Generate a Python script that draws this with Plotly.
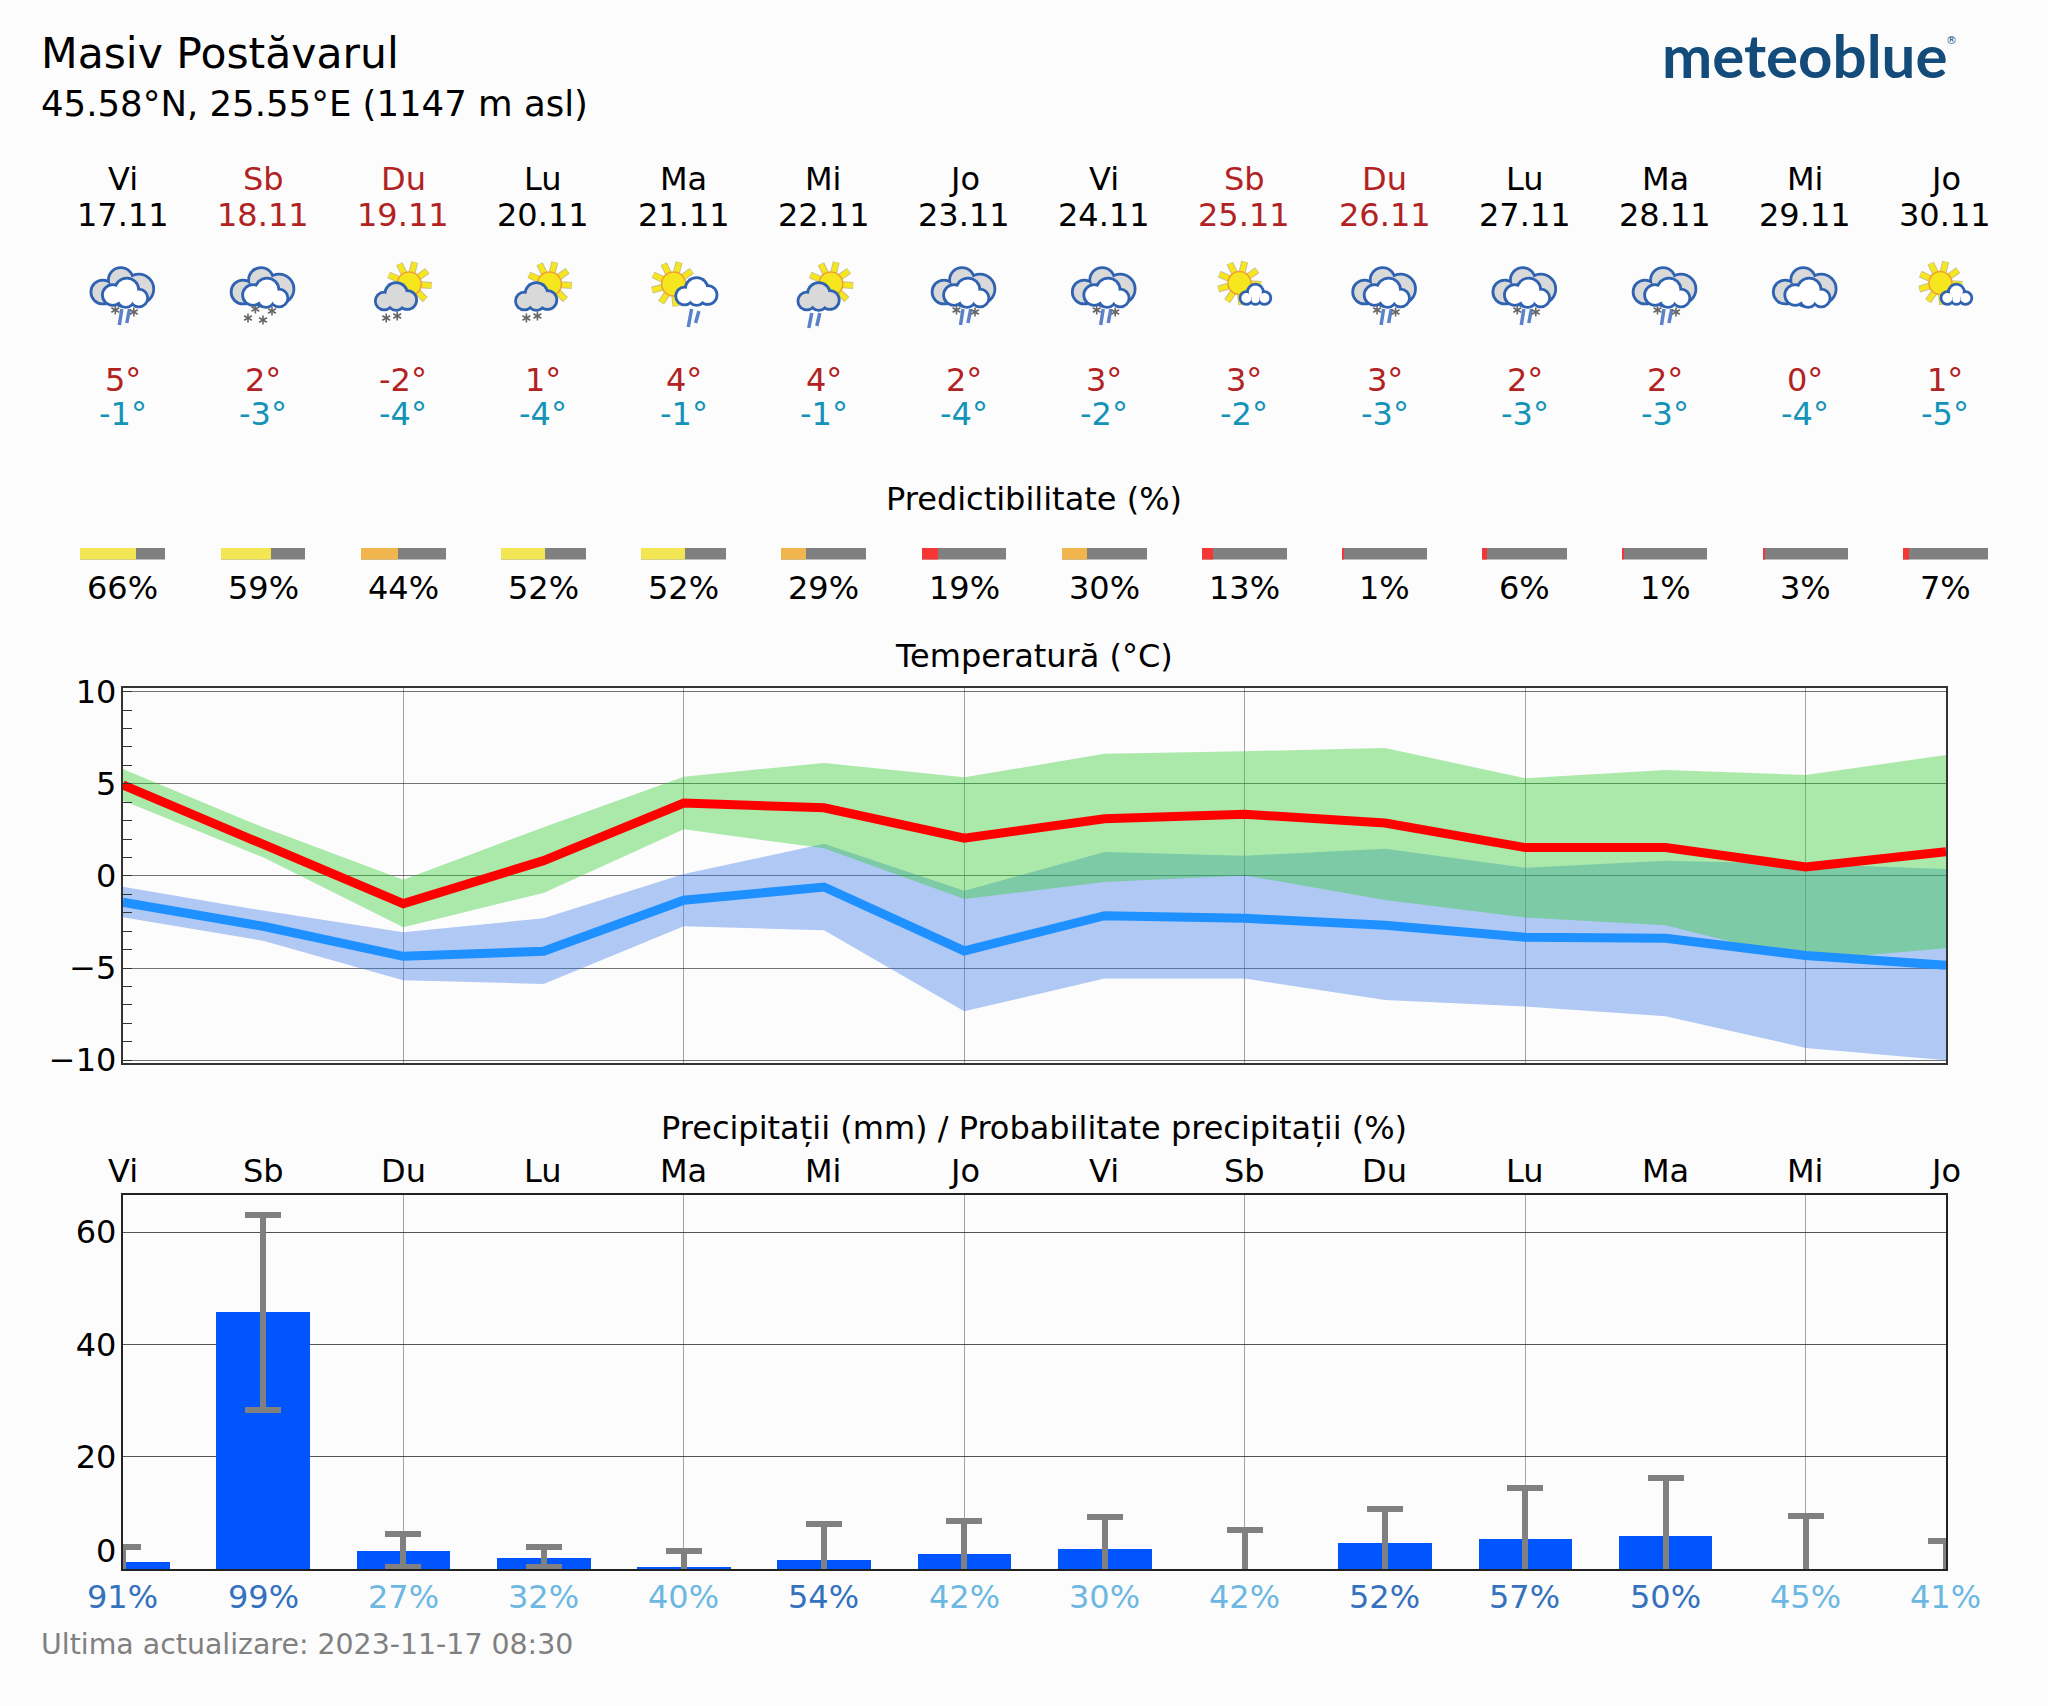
import math
import plotly.graph_objects as go

W, H = 2048, 1706
BG = "#FCFCFC"
FONT = "DejaVu Sans"

day_names = ["Vi", "Sb", "Du", "Lu", "Ma", "Mi", "Jo", "Vi", "Sb", "Du", "Lu", "Ma", "Mi", "Jo"]
dates = ["17.11", "18.11", "19.11", "20.11", "21.11", "22.11", "23.11", "24.11", "25.11", "26.11", "27.11", "28.11", "29.11", "30.11"]
tmax = [5, 2, -2, 1, 4, 4, 2, 3, 3, 3, 2, 2, 0, 1]
tmin = [-1, -3, -4, -4, -1, -1, -4, -2, -2, -3, -3, -3, -4, -5]
predict = [66, 59, 44, 52, 52, 29, 19, 30, 13, 1, 6, 1, 3, 7]
icons = ["mix", "snow", "sunsnow", "sunsnow", "sunrain", "sungreyrain", "mix", "mix", "sunsmall", "mix", "mix", "mix", "cloud", "sunsmall"]

red_line = [4.94, 1.74, -1.5, 0.83, 3.96, 3.7, 2.05, 3.1, 3.35, 2.87, 1.54, 1.54, 0.49, 1.32]
blue_line = [-1.43, -2.73, -4.36, -4.09, -1.32, -0.6, -4.07, -2.16, -2.3, -2.67, -3.33, -3.38, -4.32, -4.85]
green_hi = [5.8, 2.64, -0.2, 2.64, 5.39, 6.13, 5.35, 6.63, 6.77, 6.94, 5.3, 5.75, 5.48, 6.56]
green_lo = [4.09, 1.01, -2.78, -0.92, 2.53, 1.5, -1.25, -0.33, 0.03, -1.3, -2.26, -2.68, -4.58, -3.92]
blue_hi = [-0.58, -1.88, -3.05, -2.3, 0.1, 1.75, -0.8, 1.3, 1.1, 1.48, 0.45, 0.83, 0.65, 0.38]
blue_lo = [-2.24, -3.51, -5.66, -5.86, -2.73, -2.94, -7.34, -5.57, -5.57, -6.73, -7.09, -7.61, -9.33, -10.0]

precip = [1.2, 45.8, 3.2, 2.0, 0.3, 1.6, 2.6, 3.6, 0, 4.6, 5.4, 5.9, 0, 0]
precip_hi = [3.9, 63, 6.3, 3.9, 3.2, 8.1, 8.6, 9.3, 7, 10.7, 14.4, 16.2, 9.5, 4.9]
precip_lo = [-1, 28.4, 0.4, 0.4, -1, -1, -1, -1, -1, -1, -1, -1, -1, -1]
precip_prob = [91, 99, 27, 32, 40, 54, 42, 30, 42, 52, 57, 50, 45, 41]

X0, DX = 122.8, 140.2   # pixel position of the first day and spacing of the days
days = list(range(14))


def pcol(p):
    return "#F2E655" if p >= 50 else ("#F0B54D" if p >= 25 else "#F63636")


fig = go.Figure()

# temperature bands and lines
fig.add_trace(go.Scatter(x=days, y=blue_hi, mode="lines", line=dict(width=0), xaxis="x", yaxis="y"))
fig.add_trace(go.Scatter(x=days, y=blue_lo, mode="lines", line=dict(width=0), fill="tonexty",
                         fillcolor="rgba(62,122,232,0.4)", xaxis="x", yaxis="y"))
fig.add_trace(go.Scatter(x=days, y=green_hi, mode="lines", line=dict(width=0), xaxis="x", yaxis="y"))
fig.add_trace(go.Scatter(x=days, y=green_lo, mode="lines", line=dict(width=0), fill="tonexty",
                         fillcolor="rgba(50,205,50,0.4)", xaxis="x", yaxis="y"))
fig.add_trace(go.Scatter(x=days, y=red_line, mode="lines", line=dict(color="#FF0000", width=9), xaxis="x", yaxis="y"))
fig.add_trace(go.Scatter(x=days, y=blue_line, mode="lines", line=dict(color="#1E90FF", width=9), xaxis="x", yaxis="y"))

# precipitation
fig.add_trace(go.Bar(x=days, y=precip, width=0.667, marker=dict(color="#0055FF", line=dict(width=0)),
                     error_y=dict(type="data", symmetric=False,
                                  array=[h - v for h, v in zip(precip_hi, precip)],
                                  arrayminus=[v - l for l, v in zip(precip_lo, precip)],
                                  color="#808080", thickness=6, width=18),
                     xaxis="x2", yaxis="y2"))

# predictability bars
band = [0.5] * 14
BAR_W = 0.605
fig.add_trace(go.Bar(y=band, x=[BAR_W] * 14, base=[d - BAR_W / 2 for d in days], width=1, orientation="h",
                     marker=dict(color="#808080", line=dict(width=0)), xaxis="x3", yaxis="y3"))
fig.add_trace(go.Bar(y=band, x=[BAR_W * p / 100 for p in predict], base=[d - BAR_W / 2 for d in days], width=1, orientation="h",
                     marker=dict(color=[pcol(p) for p in predict], line=dict(width=0)), xaxis="x3", yaxis="y3"))


def fy(y):
    return 1 - y / H


def txt(x, y, s, size, color="#000000"):
    fig.add_annotation(x=x, y=fy(y), text=s, xref="x3", yref="paper", showarrow=False,
                       xanchor="center", yanchor="middle", font=dict(family=FONT, size=size, color=color))


def ptxt(x, y, s, size, color="#000000", anchor="center", family=FONT):
    fig.add_annotation(x=x / W, y=fy(y), text=s, xref="paper", yref="paper", showarrow=False,
                       xanchor=anchor, yanchor="middle", font=dict(family=family, size=size, color=color))


RED = "#B22222"
CYAN = "#1393B8"
for i in days:
    c = RED if day_names[i] in ("Sb", "Du") else "#000000"
    txt(i, 179, day_names[i], 32, c)
    txt(i, 215, dates[i], 32, c)
    txt(i, 380, f"{tmax[i]}°", 32, RED)
    txt(i, 414, f"{tmin[i]}°", 32, CYAN)
    txt(i, 588, f"{predict[i]}%", 32)
    txt(i, 1171, day_names[i], 32)
    pc = "#3471BE" if precip_prob[i] >= 50 else "#6DB8E2"
    txt(i, 1597, f"{precip_prob[i]}%", 32, pc)

ptxt(39, 53, "Masiv Postăvarul", 42.5, anchor="left")
ptxt(39, 104, "45.58°N, 25.55°E (1147 m asl)", 35.5, anchor="left")
ptxt(1034, 499, "Predictibilitate (%)", 32)
ptxt(1034, 656, "Temperatură (°C)", 32)
ptxt(1034, 1128, "Precipitații (mm) / Probabilitate precipitații (%)", 32)
ptxt(39, 1644, "Ultima actualizare: 2023-11-17 08:30", 28.4, "#808080", anchor="left")
ptxt(1660, 55, "<b>meteoblue</b>", 60, "#134B7A", anchor="left", family="Lato")
ptxt(1951, 40, "®", 11, "#134B7A")
# the zero label of the precipitation axis sits above the axis line
fig.add_annotation(x=0, y=0, xref="x2", yref="y2", text="0", showarrow=False, xanchor="right", xshift=-5, yshift=18,
                   font=dict(family=FONT, size=32, color="#000000"))

# ---- weather pictograms (decoration drawn as vector shapes)
shapes = []
OUT = "#2F62B0"


def circ(cx, cy, r, fill, line=None, lw=0):
    shapes.append(dict(type="circle", xref="paper", yref="paper", x0=(cx - r) / W, x1=(cx + r) / W,
                       y0=fy(cy + r), y1=fy(cy - r), fillcolor=fill, line=dict(color=line or fill, width=lw)))


def seg(x0, y0, x1, y1, col, w):
    shapes.append(dict(type="line", xref="paper", yref="paper", x0=x0 / W, x1=x1 / W, y0=fy(y0), y1=fy(y1),
                       line=dict(color=col, width=w)))


def cloud(cx, cy, parts, fill, lw=2.8):
    for ox, oy, r in parts:
        circ(cx + ox, cy + oy, r + lw, OUT)
    for ox, oy, r in parts:
        circ(cx + ox, cy + oy, r, fill)


# circles (x offset, y offset, radius) making up each cloud, in pixels from the cloud's centre
BIG_BACK = [(-20, 2, 10.5), (-2, -10, 11), (16, -1, 13.5)]
BIG_FRONT = [(-10, 5, 9), (4, 0, 10.5), (16, 8, 7.5), (3, 9, 7)]
MID = [(-11, 3, 7.5), (1, -4, 10), (12, 2, 8), (1, 4, 7)]
SMALL = [(-9, 3, 5), (0, -3, 6.5), (9, 3, 5), (0, 4, 4)]


def big_cloud(cx):
    cloud(cx, 290, BIG_BACK + [(0, 6, 9)], "#D9D9D9")
    cloud(cx, 290, BIG_FRONT, "#FFFFFF")


def sun(cx, cy, r):
    rays = [math.radians(-76 + 40 * k) for k in range(9)]
    for a in rays:
        seg(cx + r * math.cos(a), cy + r * math.sin(a), cx + (r + 10.5) * math.cos(a), cy + (r + 10.5) * math.sin(a), "#C9C089", 7)
    for a in rays:
        seg(cx + r * math.cos(a), cy + r * math.sin(a), cx + (r + 10) * math.cos(a), cy + (r + 10) * math.sin(a), "#F5E61E", 5)
    circ(cx, cy, r, "#F5E61E", "#F0A030", 1.5)


def flake(cx, cy):
    for a in (0, 60, 120):
        d = 4.5 * math.sin(math.radians(a)), 4.5 * math.cos(math.radians(a))
        seg(cx - d[0], cy - d[1], cx + d[0], cy + d[1], "#666666", 1.6)


def rain(x0, y0, x1, y1):
    seg(x0, y0, x1, y1, "#5B82C8", 3.5)


for i, kind in enumerate(icons):
    cx = X0 + i * DX
    if kind in ("mix", "snow", "cloud"):
        big_cloud(cx)
        if kind == "mix":
            rain(cx - 1, 309, cx - 3.5, 325)
            rain(cx + 6.7, 309, cx + 4, 323)
            flake(cx - 7.5, 310)
            flake(cx + 11, 312)
        if kind == "snow":
            flake(cx - 7.6, 309)
            flake(cx + 9, 311)
            flake(cx - 15, 318)
            flake(cx, 320)
    elif kind == "sunsnow":
        sun(cx + 6, 284, 12)
        cloud(cx - 8, 298, MID, "#D9D9D9")
        flake(cx - 17, 318)
        flake(cx - 6, 316)
    elif kind == "sunrain":
        sun(cx - 10, 284, 12)
        cloud(cx + 12, 293, MID, "#FFFFFF")
        rain(cx + 8, 309, cx + 4.7, 327)
        rain(cx + 15.3, 311, cx + 12, 323)
    elif kind == "sungreyrain":
        sun(cx + 7, 284, 12)
        cloud(cx - 6, 298, MID, "#D9D9D9")
        rain(cx - 12, 313, cx - 15, 328)
        rain(cx - 4, 313, cx - 7, 326)
    elif kind == "sunsmall":
        sun(cx - 5, 283, 11.5)
        cloud(cx + 11, 295, SMALL, "#FFFFFF")

fig.update_layout(
    template=None,
    width=W, height=H, autosize=False, margin=dict(l=0, r=0, t=0, b=0, pad=0),
    paper_bgcolor=BG, plot_bgcolor=BG, showlegend=False, barmode="overlay", bargap=0,
    font=dict(family=FONT, size=32, color="#000000"), shapes=shapes,
    xaxis=dict(domain=[122.8 / W, 1946 / W], range=[0, 13], anchor="y", tickvals=[], showgrid=False, zeroline=False,
               minor=dict(tickvals=[2, 4, 6, 8, 10, 12], showgrid=True, gridcolor="rgba(90,90,90,0.55)", gridwidth=1, ticks=""),
               showline=True, linecolor="#333333", linewidth=2, mirror=True, automargin=False),
    yaxis=dict(domain=[1 - 1063 / H, 1 - 688 / H], range=[-10.15, 10.2], anchor="x", tickvals=[-10, -5, 0, 5, 10],
               showgrid=True, gridcolor="rgba(40,40,40,0.65)", gridwidth=1, zeroline=False, ticks="",
               tickfont=dict(family=FONT, size=32, color="#000000"), automargin=False, ticklabelstandoff=-2,
               minor=dict(dtick=1, ticks="inside", ticklen=9, tickcolor="#333333", tickwidth=1, showgrid=False),
               showline=True, linecolor="#333333", linewidth=2, mirror=True),
    xaxis2=dict(domain=[122.8 / W, 1946 / W], range=[0, 13], anchor="y2", tickvals=[], showgrid=False, zeroline=False,
                minor=dict(tickvals=[2, 4, 6, 8, 10, 12], showgrid=True, gridcolor="rgba(90,90,90,0.55)", gridwidth=1, ticks=""),
                showline=True, linecolor="#222222", linewidth=2, mirror=True, automargin=False),
    yaxis2=dict(domain=[1 - 1569 / H, 1 - 1195 / H], range=[0, 66.6], anchor="x2", tickvals=[20, 40, 60],
                showgrid=True, gridcolor="rgba(40,40,40,0.8)", gridwidth=1, zeroline=False, ticks="",
                tickfont=dict(family=FONT, size=32, color="#000000"), automargin=False, ticklabelstandoff=-2,
                showline=True, linecolor="#222222", linewidth=2, mirror=True),
    xaxis3=dict(domain=[0, 1], range=[-X0 / DX, (W - X0) / DX], anchor="y3", visible=False, automargin=False),
    yaxis3=dict(domain=[1 - 559.5 / H, 1 - 547.5 / H], range=[0, 1], anchor="x3", visible=False, automargin=False),
)

fig.write_html("out.html", config={"displayModeBar": False},
               post_script="document.body.style.margin='0';document.body.style.background='#FCFCFC';")
